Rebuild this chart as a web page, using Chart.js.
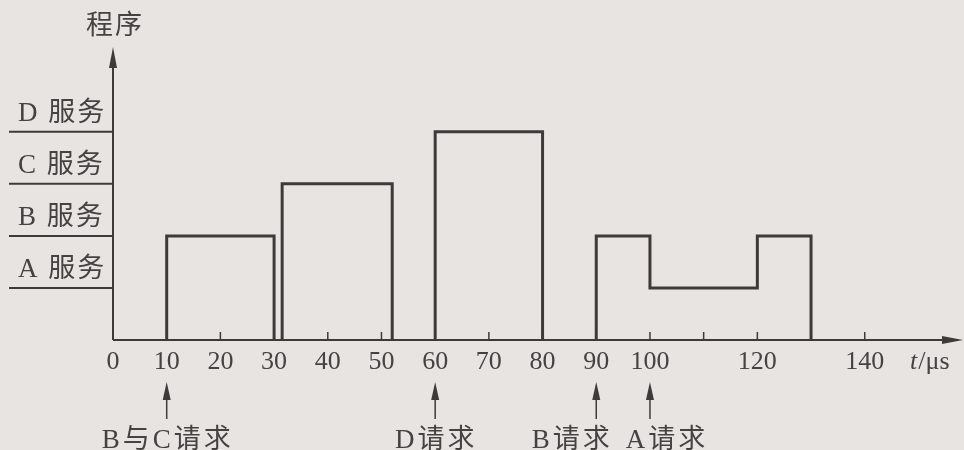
<!DOCTYPE html>
<html>
<head>
<meta charset="utf-8">
<script src="https://cdn.jsdelivr.net/npm/chart.js@4.4.0/dist/chart.umd.min.js"></script>
<style>
  html, body { margin: 0; padding: 0; background: #e8e4e1; }
  #wrap { width: 964px; height: 450px; }
</style>
</head>
<body>
<div id="wrap"><canvas id="chart" width="964" height="450"></canvas></div>
<script>
// y levels (which program is being served)
const levelNames = ['D 服务', 'C 服务', 'B 服务', 'A 服务'].reverse();
const levelValues = [1, 2, 3, 4];

// time slices in us and the service running in each
const segStart = [10, 31.5, 60, 90, 100, 120];
const segEnd = [30, 52, 80, 100, 120, 130];
const segLevel = [2, 3, 4, 2, 1, 2];

// x axis
const xTickValues = [0, 10, 20, 30, 40, 50, 60, 70, 80, 90, 100, 120, 140];
const xMinorTicks = [10, 20, 30, 40, 50, 60, 70, 80, 90, 100, 110, 120, 130, 140];

// interrupt requests under the axis
const reqTimes = [10, 60, 90, 100];
const reqNames = ['B与C请求', 'D请求', 'B请求', 'A请求'];

const ink = '#3d3a3a';
const textInk = '#464242';
const serif = '"Liberation Serif", "Noto Sans CJK SC", serif';

// outline of the busy blocks, broken where the cpu is idle
const outline = [];
segStart.forEach((s, i) => {
  const joined = i > 0 && segEnd[i - 1] === s;
  if (!joined) {
    if (i > 0) outline.push({ x: s, y: null });
    outline.push({ x: s, y: 0 });
  }
  outline.push({ x: s, y: segLevel[i] });
  outline.push({ x: segEnd[i], y: segLevel[i] });
  const closes = i === segStart.length - 1 || segStart[i + 1] !== segEnd[i];
  if (closes) outline.push({ x: segEnd[i], y: 0 });
});

function line(ctx, x1, y1, x2, y2) {
  ctx.beginPath();
  ctx.moveTo(x1, y1);
  ctx.lineTo(x2, y2);
  ctx.stroke();
}

function arrowHead(ctx, tx, ty, dx, dy, len, half) {
  const bx = tx - dx * len, by = ty - dy * len;
  ctx.beginPath();
  ctx.moveTo(tx, ty);
  ctx.lineTo(bx - dy * half, by + dx * half);
  ctx.lineTo(bx + dy * half, by - dx * half);
  ctx.closePath();
  ctx.fill();
}

// axes, arrows, level lines and the extra texts
const sketch = {
  id: 'sketch',
  afterDraw(chart) {
    const { ctx, chartArea: a, scales: { x, y } } = chart;
    const x0 = x.getPixelForValue(0);
    const y0 = y.getPixelForValue(0);
    ctx.save();
    ctx.strokeStyle = ink;
    ctx.fillStyle = ink;

    // axes
    ctx.lineWidth = 2;
    line(ctx, x0, y0, x0, a.top + 12);
    arrowHead(ctx, x0, a.top, 0, -1, 21, 4);
    line(ctx, x0, y0, a.right - 12, y0);
    arrowHead(ctx, a.right, y0, 1, 0, 21, 4);

    // small ticks pointing up
    ctx.lineWidth = 1.5;
    xMinorTicks.forEach(v => {
      const px = x.getPixelForValue(v);
      line(ctx, px, y0, px, y0 - 8);
    });

    // level lines left of the y axis
    ctx.lineWidth = 2;
    levelValues.forEach(v => {
      const py = y.getPixelForValue(v);
      line(ctx, 9, py, x0, py);
    });

    ctx.fillStyle = textInk;
    ctx.font = '27px ' + serif;
    ctx.textBaseline = 'middle';
    ctx.textAlign = 'left';
    ctx.letterSpacing = '2px';
    levelValues.forEach((v, i) => {
      ctx.fillText(levelNames[i], 18, y.getPixelForValue(v) - 18);
    });

    ctx.textAlign = 'center';
    ctx.fillText('程序', x0 + 2, 27);
    ctx.letterSpacing = '0px';

    // t/us unit
    ctx.textAlign = 'left';
    ctx.font = 'italic 26px ' + serif;
    ctx.fillText('t', 910, 362);
    const tw = ctx.measureText('t').width;
    ctx.font = '26px ' + serif;
    ctx.fillText('/μs', 910 + tw + 1, 362);

    // request arrows
    const reqShift = [0, 0, -25, 16];
    ctx.fillStyle = ink;
    ctx.lineWidth = 1.5;
    reqTimes.forEach(t => {
      const px = x.getPixelForValue(t);
      line(ctx, px, y0 + 79, px, y0 + 52);
      arrowHead(ctx, px, y0 + 42, 0, -1, 18, 4);
    });
    ctx.fillStyle = textInk;
    ctx.font = '27px ' + serif;
    ctx.textAlign = 'center';
    ctx.letterSpacing = '3px';
    reqTimes.forEach((t, i) => {
      ctx.fillText(reqNames[i], x.getPixelForValue(t) + reqShift[i] + 1, y0 + 101);
    });
    ctx.restore();
  }
};

new Chart(document.getElementById('chart'), {
  type: 'line',
  data: {
    datasets: [{
      data: outline,
      borderColor: ink,
      borderWidth: 3,
      borderJoinStyle: 'miter',
      borderCapStyle: 'butt',
      pointRadius: 0,
      tension: 0,
      fill: false,
      spanGaps: false,
      clip: false
    }]
  },
  options: {
    responsive: false,
    animation: false,
    devicePixelRatio: 1,
    layout: { padding: { left: 113, right: 1, top: 47, bottom: 0 } },
    plugins: { legend: { display: false }, tooltip: { enabled: false } },
    scales: {
      x: {
        type: 'linear',
        min: 0,
        max: 158.3,
        afterBuildTicks: s => { s.ticks = xTickValues.map(v => ({ value: v })); },
        afterFit: s => { s.height = 110; },
        grid: { display: false, drawTicks: false },
        border: { display: false },
        ticks: {
          color: textInk,
          font: { family: serif, size: 26 },
          padding: 7,
          maxRotation: 0,
          autoSkip: false
        }
      },
      y: { min: 0, max: 5.63, display: false }
    }
  },
  plugins: [sketch]
});
</script>
</body>
</html>
